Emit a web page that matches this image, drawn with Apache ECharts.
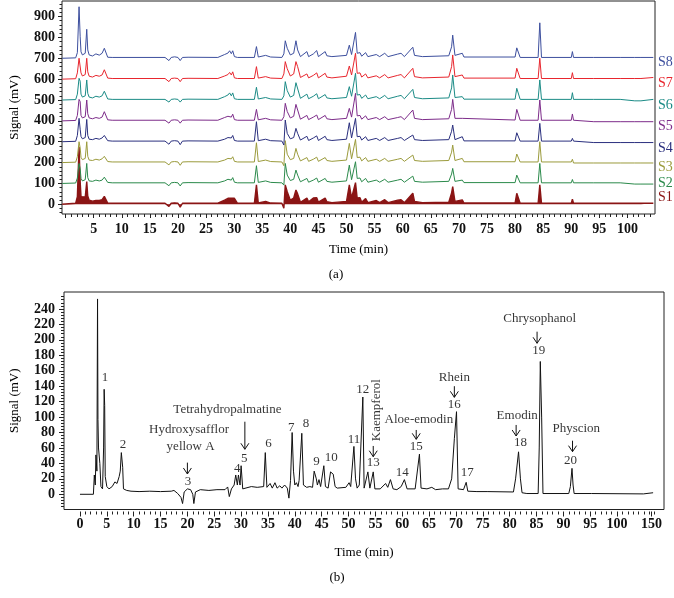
<!DOCTYPE html>
<html><head><meta charset="utf-8">
<script src="https://cdn.jsdelivr.net/npm/echarts@6/dist/echarts.min.js"></script>
<style>html,body{margin:0;padding:0;background:#fff}#c{width:674px;height:598px}</style>
</head><body><div id="c"></div>
<script>
// ---------- (a) stacked chromatograms S1..S8 ----------
const topTimes = [-0.6,1.8,2.1,2.4,2.6,2.75,3.0,3.5,3.77,3.95,
  4.2,4.8,5.4,6.0,6.5,6.9,7.2,7.5,8.3,17.7,
  18.4,18.8,19.4,20.0,20.4,20.8,21.8,27.1,27.4,28.3,
  28.9,29.2,29.5,29.75,30.05,30.6,33.6,33.97,34.3,35.6,
  36.5,38.5,38.85,39.1,39.45,40.0,40.6,41.0,41.3,41.8,
  42.95,43.25,44.1,44.7,45.0,46.2,46.5,47.4,50.0,50.5,
  50.9,51.2,51.6,51.9,52.4,52.7,53.4,53.8,55.3,55.9,
  56.8,57.4,59.1,59.7,60.3,61.8,62.1,63.5,68.2,68.7,
  68.9,69.3,70.6,70.9,80.0,80.3,80.6,80.9,84.1,84.4,
  84.7,90.0,90.2,90.4,94.0,98.7,101.3,102.4,104.6];

const sampleNames = ['S1','S2','S3','S4','S5','S6','S7','S8'];
const sampleOffsets = [0,100,200,300,400,500,600,700];
const sampleColors = ['#8b1515','#2b8a4b','#9b9b3c','#2a2f7e','#7d2c8a','#1b8b86','#e8262e','#3d4f9e'];
const sampleLabelY = [197,183,167,148,126,105,83,62];

const S1 = [0,5,37,276,109,37,30,35,109,40, 20,15,18,18,22,38,45,6,5,5, -10,5,7,5,-14,5,5,5,-4,20,
  29,29,29,29,29,5,5,93,6,14, 6,5,-19,93,60,20,30,69,50,10, 30,12,30,32,10,30,12,8,14,93,
  30,30,104,30,32,10,28,8,18,8, 22,8,20,22,8,53,14,8,10,55, 85,14,21,6,6,53,53,5,5,93, 5,5,24,5,5,5,5,5,5];
const S2 = [0,2,26,96,70,24,12,18,96,28, 12,10,16,12,16,30,35,5,3,3, -11,3,5,3,-12,3,4,3,-4,12,
  20,26,16,28,6,3,3,85,5,12, 5,3,-8,96,40,14,20,64,40,8, 24,6,16,26,6,24,10,6,12,88,
  18,22,104,24,26,8,24,6,16,6, 20,6,16,20,6,35,10,6,10,45, 72,10,16,4,4,40,40,3,3,96, 3,3,19,3,3,3,-3,-3,-3];
const S3 = [0,2,28,100,70,25,14,20,100,30, 12,10,16,12,18,30,36,5,3,3, -11,3,5,3,-13,3,4,3,-4,12,
  20,26,18,28,6,3,3,95,5,12, 5,3,-15,105,40,14,20,68,40,8, 24,6,16,26,6,24,10,6,12,92,
  18,22,111,24,26,8,24,6,16,6, 20,6,16,20,6,36,10,6,10,50, 84,10,20,4,4,41,41,3,3,100, 3,3,16,-2,-2,-2,-2,-2,-2];
const S4 = [0,2,30,112,60,25,14,20,107,30, 12,10,16,12,18,30,37,5,3,3, -12,3,5,3,-14,3,4,3,-5,12,
  20,28,18,30,6,3,3,96,5,12, 5,3,-16,104,40,14,20,64,40,8, 26,6,18,28,6,26,10,6,12,91,
  18,22,112,24,26,8,24,6,16,6, 20,6,16,20,6,32,10,6,10,50, 80,10,24,4,4,43,43,3,3,88, 3,3,16,3,-4,-4,-4,-4,-4];
const S5 = [0,2,26,103,92,26,14,20,100,34, 14,10,16,12,18,44,52,5,3,3, -11,3,5,3,-11,3,4,3,-4,16,
  22,30,18,32,6,3,3,55,5,12, 5,3,20,84,45,14,22,79,79,8, 26,6,18,28,6,26,10,6,12,60,
  18,22,132,24,26,8,24,6,16,6, 20,6,16,20,6,52,12,6,10,55, 103,12,12,4,4,55,50,3,3,100, 3,3,33,3,-4,-4,-4,-4,-4];
const S6 = [0,2,28,104,90,28,14,20,96,32, 14,10,18,14,20,42,51,5,3,3, -10,3,5,3,-10,3,4,3,-4,16,
  24,34,20,34,6,3,3,61,5,12, 5,3,20,88,45,14,22,83,83,8, 28,6,18,30,6,26,10,6,12,64,
  18,22,128,24,26,8,24,6,16,6, 22,6,18,22,6,51,12,6,10,58, 120,12,16,4,4,56,52,3,3,96, 3,3,35,3,3,3,-4,-4,3];
const S7 = [0,2,30,100,95,30,15,22,100,35, 14,10,18,14,20,45,52,5,3,3, -12,3,5,3,-12,3,4,3,-4,15,
  22,32,20,35,6,3,3,60,5,12, 5,3,25,84,50,15,25,84,60,8, 25,6,18,30,6,28,10,6,14,63,
  20,24,124,28,30,10,25,6,16,6, 22,6,18,22,6,52,12,6,10,60, 116,12,20,5,5,52,48,3,3,100, 3,3,31,3,3,3,3,3,8];
const S8 = [0,2,27,247,103,31,16,24,139,40, 16,11,21,15,24,48,56,5,4,4, -11,4,7,4,-11,4,5,4,-3,18,
  25,36,22,36,8,4,4,56,6,14, 6,4,21,84,48,16,24,84,40,8, 32,8,21,37,8,32,12,8,14,63,
  18,22,124,24,27,10,27,8,18,8, 24,8,20,24,8,53,14,8,12,55, 111,14,24,6,6,50,50,4,4,170, 4,4,32,4,4,4,4,4,4];
const sampleValues = [S1,S2,S3,S4,S5,S6,S7,S8];

const topXLabels = [5,10,15,20,25,30,35,40,45,50,55,60,65,70,75,80,85,90,95,100];
const topYLabels = [0,100,200,300,400,500,600,700,800,900];

// ---------- (b) reference chromatogram ----------
const bTime = [0,2.5,2.67,2.85,2.97,3.15,3.27,3.35,3.45,3.7,
  3.9,4.2,4.4,4.5,4.6,4.7,5.0,5.4,6.0,6.5,
  6.9,7.3,7.5,7.7,7.95,8.1,8.7,9.5,11,13,
  15,17,17.5,18.2,18.8,19.1,19.4,20.0,20.6,21.0,
  21.2,21.5,22.4,24,25.5,27,27.5,27.8,28.2,28.7,
  29.0,29.3,29.5,29.8,30.0,30.3,31.9,33,34.2,34.5,
  34.8,35.4,35.8,36.3,36.7,37.2,37.6,38.1,38.6,38.9,
  39.2,39.5,39.75,40.0,40.3,40.6,40.8,41.3,41.6,42.2,
  42.8,43.3,43.6,44.0,44.2,44.5,44.8,45.1,45.4,45.7,
  46.2,46.65,47.15,47.5,47.9,49.5,50.1,50.4,51.0,51.3,
  51.6,52.0,52.66,52.9,53.6,53.97,54.6,54.9,55.9,56.9,
  57.3,57.8,58.3,59.0,59.8,60.4,60.9,62.4,63.2,63.5,
  64.6,65.5,66.2,67.5,68.6,69.2,69.7,70.1,70.4,71.4,
  71.9,72.2,73.9,75.8,80.7,81.1,81.65,82.0,82.3,83.2,
  85.3,85.5,85.7,85.95,86.2,91.0,91.3,91.6,91.8,92.0,
  95.2,95.3,95.5,104.9,105.2,106.7];
const bSignal = [0,0,25,12,51,30,253,97,60,40,
  10,7,60,136,115,23,10,7,10,16,
  14,23,30,54,35,7,5,4,3.5,4,
  3.5,4,5,1,-4,-12,3,7,6,0,
  -12,3,6,5,6,6,9.5,-3,7,12,
  25,12,25,12,37,7,10,9,10,54,
  9,14,8,15,8,11,8,12,8,-5,
  18,80,30,12,15,10,18,79,12,9,
  10,9,30,20,12,19,10,12,37,10,
  8,29,26,10,8,9,15,10,62,20,
  8,12,126,8,29,8,29,7,7,14,
  9,19,7,6,10,19,7,7,52,8,
  7,9,6,7,7,20,72,107,7,6,
  15.5,4,3.5,3.5,3,20,55,20,2,1,
  1,60,172,100,1,1,10,33.6,12,1,
  1,3,1,0.5,2,2];

const annText = ['1','2','Hydroxysafflor','yellow A','3','4','Tetrahydropalmatine','5','6','7','8','9','10',
  '11','12','Kaempferol','13','14','Aloe-emodin','15','Rhein','16','17','Emodin','18','Chrysophanol','19','Physcion','20'];
const annT = [4.65,8.0,20.3,20.6,20.1,29.3,27.45,30.6,35.1,39.35,42.06,44.05,46.8,
  51.0,52.66,55.3,54.6,60.0,63.1,62.6,69.7,69.7,72.1,81.4,82.0,85.6,85.4,92.4,91.3];
const annV = [151.6,64.8,83.3,61.7,16.8,33.7,110,45.7,66,86.8,91,42.2,47.9,
  71.2,135,109,41.5,28,97,61.7,151.6,115.7,28,101.4,67.4,228,185.6,85.5,43.5];
const annRotate = [0,0,0,0,0,0,0,0,0,0,0,0,0, 0,0,90,0,0,0,0,0,0,0,0,0,0,0,0,0];

const arrowT = [20.0,30.7,54.6,62.6,69.7,81.2,85.1,91.7];
const arrowTop = [41,94,62.6,83.3,140,89.8,210.6,69.4];
const arrowBottom = [26.3,58.3,48.7,71.2,125.6,75.5,195.6,55.2];

const bXLabels = [0,5,10,15,20,25,30,35,40,45,50,55,60,65,70,75,80,85,90,95,100,106.4];
const bXLabelText = ['0','5','10','15','20','25','30','35','40','45','50','55','60','65','70','75','80','85','90','95','100','150'];
const bYLabels = [0,20,40,60,80,100,120,140,160,180,200,220,240];

// ---------- helpers ----------
const FONT = "'Liberation Serif','DejaVu Serif',serif";
function range(a,b,s){const r=[];for(let v=a;v<=b+1e-9;v+=s)r.push(Math.round(v*1000)/1000);return r;}
const topXMinor = range(0,104,1).filter(v=>v%5!==0);
const topYMinor = range(-40,960,20).filter(v=>v%100!==0);
const bXMinor = range(0,107,1).filter(v=>v%5!==0 || v>100);
const bYMinor = range(-20,260,4).filter(v=>v%20!==0);

const tickStyle = {color:'#222', width:1};
function mainAxis(extra){return Object.assign({type:'value', splitLine:{show:false}, axisLine:{show:false,onZero:false}}, extra);}

const chart = echarts.init(document.getElementById('c'), null, {renderer:'canvas'});

const series = [];
sampleValues.forEach((vals,k)=>{
  series.push({
    type:'line', xAxisIndex:0, yAxisIndex:0, showSymbol:false, silent:true, animation:false,
    lineStyle:{color:sampleColors[k], width: k===0?1.4:1},
    areaStyle: k===0 ? {color:sampleColors[k], opacity:1} : undefined,
    z: 2+k,
    data: topTimes.map((t,i)=>[t, vals[i] + sampleOffsets[k]])
  });
});
series.push({
  type:'line', xAxisIndex:2, yAxisIndex:2, showSymbol:false, silent:true, animation:false,
  lineStyle:{color:'#111', width:1},
  data: bTime.map((t,i)=>[t, bSignal[i]])
});
series.push({
  type:'scatter', xAxisIndex:2, yAxisIndex:2, silent:true, animation:false,
  symbol:'circle', symbolSize:0.01, itemStyle:{color:'#000'},
  label:{show:true, position:'inside', color:'#000', fontSize:13, fontFamily:FONT, textBorderWidth:0},
  data: annText.map((s,i)=>({value:[annT[i], annV[i]], label:{formatter:s, rotate:annRotate[i]}}))
});
series.push({
  type:'custom', xAxisIndex:2, yAxisIndex:2, silent:true, animation:false,
  data: arrowT.map((t,i)=>[t, arrowTop[i], arrowBottom[i]]),
  renderItem: function(params, api){
    const p1 = api.coord([api.value(0), api.value(1)]);
    const p2 = api.coord([api.value(0), api.value(2)]);
    return {type:'group', children:[
      {type:'line', shape:{x1:p1[0],y1:p1[1],x2:p2[0],y2:p2[1]}, style:{stroke:'#111', lineWidth:1}},
      {type:'polyline', shape:{points:[[p2[0]-4,p2[1]-6],[p2[0],p2[1]],[p2[0]+4,p2[1]-6]]}, style:{stroke:'#111', lineWidth:1, fill:null}}
    ]};
  }
});

const graphic = [];
sampleNames.forEach((n,k)=>{
  graphic.push({type:'text', x:658, y:sampleLabelY[k], silent:true,
    style:{text:n, fill:sampleColors[k], font:'14px '+FONT, verticalAlign:'middle', align:'left'}});
});
graphic.push({type:'text', x:336, y:275, silent:true, style:{text:'(a)', fill:'#000', font:'13px '+FONT, align:'center', verticalAlign:'middle'}});
graphic.push({type:'text', x:337, y:578, silent:true, style:{text:'(b)', fill:'#000', font:'13px '+FONT, align:'center', verticalAlign:'middle'}});

const labelFont = {color:'#111', fontSize:14, fontFamily:FONT, fontWeight:'bold'};
const nameFont = {color:'#000', fontSize:13, fontFamily:FONT};

chart.setOption({
  animation:false,
  backgroundColor:'#fff',
  graphic: graphic,
  grid:[
    {left:56, top:1, width:599, height:213, show:true, borderColor:'#222', borderWidth:1, backgroundColor:'transparent'},
    {left:63, top:292, width:601, height:217.5, show:true, borderColor:'#222', borderWidth:1, backgroundColor:'transparent'}
  ],
  xAxis:[
    mainAxis({gridIndex:0, min:-0.634, max:104.9, position:'bottom',
      axisTick:{show:true, length:4, customValues:[0].concat(topXLabels), lineStyle:tickStyle},
      axisLabel:Object.assign({customValues:topXLabels, margin:8}, labelFont),
      name:'Time (min)', nameLocation:'middle', nameGap:29, nameTextStyle:nameFont}),
    mainAxis({gridIndex:0, min:-0.634, max:104.9, position:'bottom',
      axisTick:{show:true, length:3, customValues:topXMinor, lineStyle:tickStyle}, axisLabel:{show:false}}),
    mainAxis({gridIndex:1, min:-2.974, max:108.73, position:'bottom', offset:2,
      axisTick:{show:true, length:5, customValues:bXLabels, lineStyle:tickStyle},
      axisLabel:Object.assign({customValues:bXLabels, margin:5.5, formatter:function(v){const i=bXLabels.findIndex(x=>Math.abs(x-v)<0.01);return i>=0?bXLabelText[i]:'';}}, labelFont),
      name:'Time (min)', nameLocation:'middle', nameGap:35, nameTextStyle:nameFont}),
    mainAxis({gridIndex:1, min:-2.974, max:108.73, position:'bottom', offset:2,
      axisTick:{show:true, length:3, customValues:bXMinor, lineStyle:tickStyle}, axisLabel:{show:false}})
  ],
  yAxis:[
    mainAxis({gridIndex:0, min:-46.5, max:974.6, position:'left',
      axisTick:{show:true, length:4, customValues:topYLabels, lineStyle:tickStyle},
      axisLabel:Object.assign({customValues:topYLabels, margin:7}, labelFont),
      name:'Signal (mV)', nameLocation:'middle', nameGap:41, nameTextStyle:nameFont}),
    mainAxis({gridIndex:0, min:-46.5, max:974.6, position:'left',
      axisTick:{show:true, length:2.5, customValues:topYMinor, lineStyle:tickStyle}, axisLabel:{show:false}}),
    mainAxis({gridIndex:1, min:-19.7, max:262, position:'left',
      axisTick:{show:true, length:5, customValues:bYLabels, lineStyle:tickStyle},
      axisLabel:Object.assign({customValues:bYLabels, margin:9}, labelFont),
      name:'Signal (mV)', nameLocation:'middle', nameGap:43, nameTextStyle:nameFont}),
    mainAxis({gridIndex:1, min:-19.7, max:262, position:'left',
      axisTick:{show:true, length:3, customValues:bYMinor, lineStyle:tickStyle}, axisLabel:{show:false}})
  ],
  series: series
});
</script>
</body></html>
